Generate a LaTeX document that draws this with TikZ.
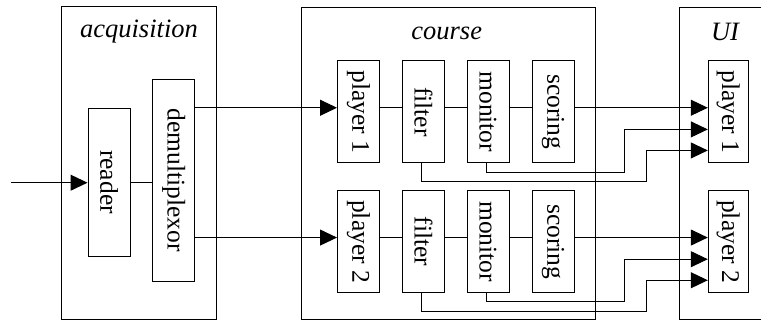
\documentclass[tikz,border=0pt]{standalone}
\usepackage{fontspec}
\setmainfont{Liberation Serif}
\usetikzlibrary{arrows.meta}
\begin{document}
\begin{tikzpicture}[x=1pt,y=-1pt,
  line width=1pt,
  frame/.style={draw, inner sep=0pt},
  block/.style={draw, minimum width=42pt, inner sep=0pt,
                font=\fontsize{25.5}{30}\selectfont},
  tall/.style={block, minimum height=102pt},
  title/.style={font=\fontsize{26.5}{30}\selectfont\itshape, inner sep=0pt},
  feed/.style={-{Triangle[length=17pt,width=16pt]}}
]
\useasboundingbox (0,0) rectangle (761,322);

% subsystem frames
\node[frame, minimum width=155.7pt, minimum height=312.3pt] (acq) at (138.85,162.85) {};
\node[frame, minimum width=294pt, minimum height=312pt] (crs) at (448,163) {};
\draw (761,7) -| (679.3,319) -- (761,319);

\node[title] (tacq) at (139,32) {acquisition};
\node[title] (tcrs) at (446.7,33) {course};
\node[title] (tui) at (725,32) {UI};

% acquisition stage
\coordinate (in) at (11,182.7);
\node[block, minimum height=148pt] (rd) at (109,182) {\rotatebox{-90}{reader}};
\node[block, minimum height=202pt] (dm) at (173.7,180) {\rotatebox{-90}{demultiplexor}};
\draw[feed] (in) -- (rd.west |- in);
\draw (rd.east |- in) -- (dm.west |- in);

% one processing chain per player
\foreach \r/\y in {1/111.85, 2/241.65}{
  \node[tall] (p\r) at (358.5,\y) {\rotatebox{-90}{player \r}};
  \node[tall] (f\r) at (423.5,\y) {\rotatebox{-90}{filter}};
  \node[tall] (m\r) at (488,\y) {\rotatebox{-90}{monitor}};
  \node[tall] (s\r) at (553,\y) {\rotatebox{-90}{scoring}};
  \node[tall, minimum width=40pt] (u\r) at (728.3,\y) {\rotatebox{-90}{player \r}};

  \coordinate (a\r) at (0,\y-4.1);
  \coordinate (b\r) at (0,\y+17.55);
  \coordinate (c\r) at (0,\y+38.6);
  \coordinate (mb\r) at (624.3,\y+60.25);
  \coordinate (fb\r) at (646,\y+69.6);

  \draw[feed] (dm.east |- a\r) -- (p\r.west |- a\r);
  \draw (p\r.east |- a\r) -- (f\r.west |- a\r)
        (f\r.east |- a\r) -- (m\r.west |- a\r)
        (m\r.east |- a\r) -- (s\r.west |- a\r);
  \draw[feed] (s\r.east |- a\r) -- (u\r.west |- a\r);
  \draw[feed] ([xshift=-1.3pt]m\r.south) |- (mb\r) |- (u\r.west |- b\r);
  \draw[feed] ([xshift=-2.5pt]f\r.south) |- (fb\r) |- (u\r.west |- c\r);
}
\end{tikzpicture}
\end{document}
